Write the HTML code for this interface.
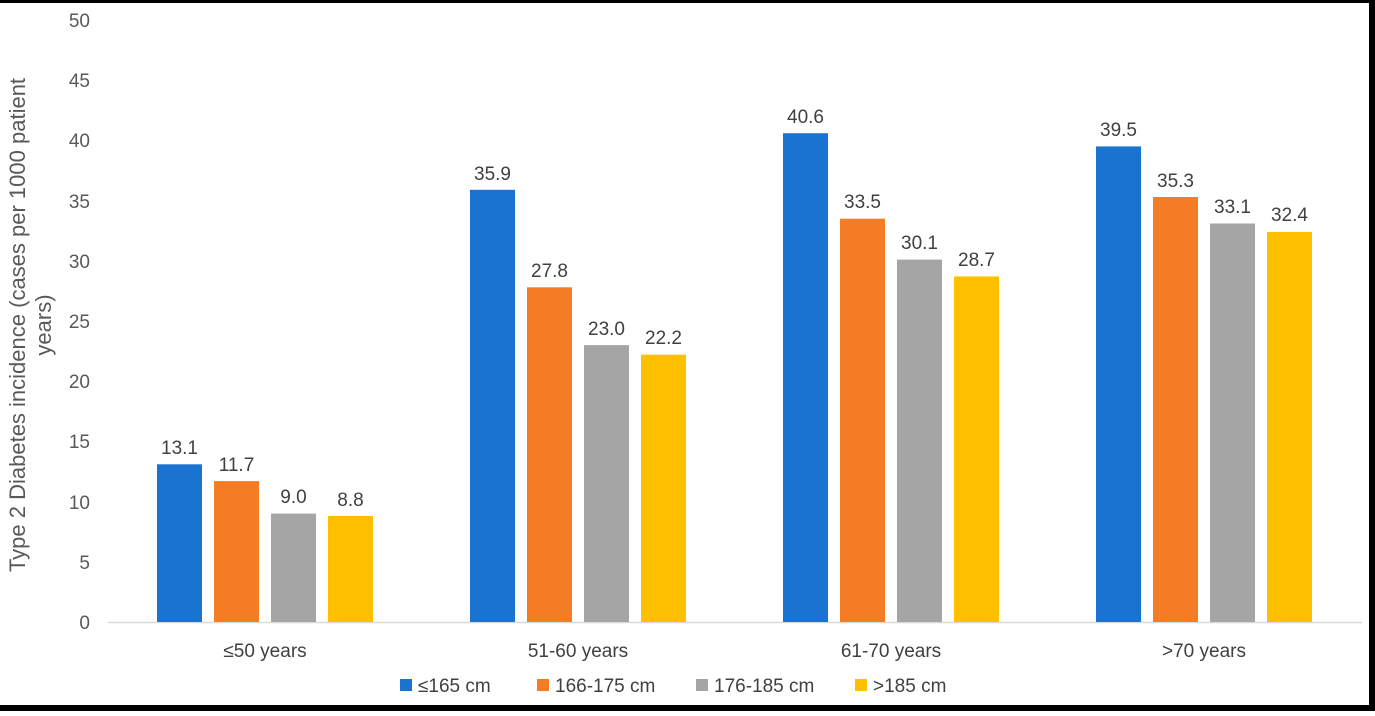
<!DOCTYPE html><html><head><style>body{margin:0;background:#fff}</style></head><body>
<svg width="1375" height="711" xmlns="http://www.w3.org/2000/svg" font-family="Liberation Sans, Arial, sans-serif">
<rect width="1375" height="711" fill="#fff"/>
<rect x="0" y="0" width="1375" height="3" fill="#000"/>
<rect x="0" y="705" width="1375" height="6" fill="#000"/>
<rect x="1369" y="0" width="6" height="711" fill="#000"/>
<line x1="108" y1="622.5" x2="1362" y2="622.5" stroke="#d9d9d9" stroke-width="1.5"/>
<g font-size="19" fill="#595959" text-anchor="end">
<text x="90" y="629">0</text><text x="90" y="569">5</text><text x="90" y="509">10</text><text x="90" y="448">15</text><text x="90" y="388">20</text><text x="90" y="328">25</text><text x="90" y="268">30</text><text x="90" y="208">35</text><text x="90" y="147">40</text><text x="90" y="87">45</text><text x="90" y="27">50</text>
</g>
<g font-size="22" fill="#595959" text-anchor="middle">
<text transform="translate(25,325) rotate(-90)">Type 2 Diabetes incidence (cases per 1000 patient</text>
<text transform="translate(51,325) rotate(-90)">years)</text>
</g>
<g>
<rect x="157" y="464.3" width="45" height="157.7" fill="#1a73d0"/>
<rect x="214" y="481.1" width="45" height="140.9" fill="#f47c25"/>
<rect x="271" y="513.6" width="45" height="108.4" fill="#a5a5a5"/>
<rect x="328" y="516.0" width="45" height="106.0" fill="#ffc000"/>
<rect x="470" y="189.8" width="45" height="432.2" fill="#1a73d0"/>
<rect x="527" y="287.3" width="45" height="334.7" fill="#f47c25"/>
<rect x="584" y="345.1" width="45" height="276.9" fill="#a5a5a5"/>
<rect x="641" y="354.7" width="45" height="267.3" fill="#ffc000"/>
<rect x="783" y="133.2" width="45" height="488.8" fill="#1a73d0"/>
<rect x="840" y="218.7" width="45" height="403.3" fill="#f47c25"/>
<rect x="897" y="259.6" width="45" height="362.4" fill="#a5a5a5"/>
<rect x="954" y="276.4" width="45" height="345.6" fill="#ffc000"/>
<rect x="1096" y="146.4" width="45" height="475.6" fill="#1a73d0"/>
<rect x="1153" y="197.0" width="45" height="425.0" fill="#f47c25"/>
<rect x="1210" y="223.5" width="45" height="398.5" fill="#a5a5a5"/>
<rect x="1267" y="231.9" width="45" height="390.1" fill="#ffc000"/>
</g>
<g font-size="19" fill="#404040" text-anchor="middle">
<text x="179.5" y="454">13.1</text><text x="236.5" y="471">11.7</text><text x="293.5" y="503">9.0</text><text x="350.5" y="506">8.8</text>
<text x="492.5" y="180">35.9</text><text x="549.5" y="277">27.8</text><text x="606.5" y="335">23.0</text><text x="663.5" y="344">22.2</text>
<text x="805.5" y="123">40.6</text><text x="862.5" y="208">33.5</text><text x="919.5" y="249">30.1</text><text x="976.5" y="266">28.7</text>
<text x="1118.5" y="136">39.5</text><text x="1175.5" y="187">35.3</text><text x="1232.5" y="213">33.1</text><text x="1289.5" y="221">32.4</text>
</g>
<g font-size="19" fill="#404040" text-anchor="middle">
<text x="265" y="657">≤50 years</text><text x="578" y="657">51-60 years</text><text x="891" y="657">61-70 years</text><text x="1204" y="657">&gt;70 years</text>
</g>
<g font-size="19" fill="#404040">
<rect x="400" y="679" width="12" height="12" fill="#1a73d0"/><text x="418" y="692">≤165 cm</text>
<rect x="537" y="679" width="12" height="12" fill="#f47c25"/><text x="555" y="692">166-175 cm</text>
<rect x="696" y="679" width="12" height="12" fill="#a5a5a5"/><text x="714" y="692">176-185 cm</text>
<rect x="855" y="679" width="12" height="12" fill="#ffc000"/><text x="873" y="692">&gt;185 cm</text>
</g>
</svg></body></html>
